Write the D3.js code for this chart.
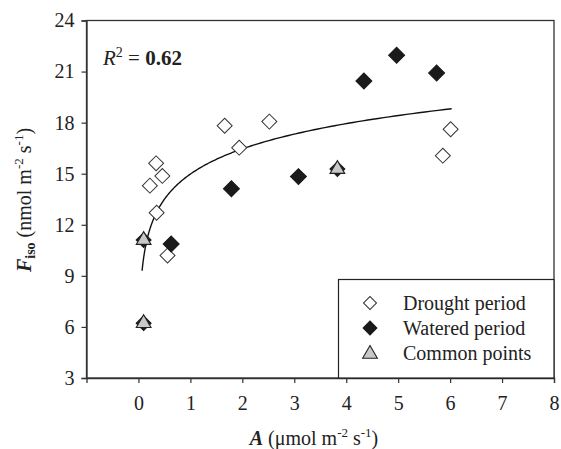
<!DOCTYPE html>
<html><head><meta charset="utf-8">
<script src="https://cdn.jsdelivr.net/npm/d3@7"></script>
<style>
body{margin:0;background:#fff;}
svg text{font-family:"Liberation Serif","Times New Roman",Times,"DejaVu Serif",serif !important;fill:#222;}
</style></head>
<body><svg id="c" width="561" height="449"></svg>
<script>
// Data
const droughtA = [1.66, 2.52, 1.94, 0.34, 0.46, 0.22, 0.35, 0.56, 6.01, 5.86];
const droughtF = [17.82, 18.06, 16.53, 15.61, 14.87, 14.30, 12.71, 10.19, 17.61, 16.06];
const wateredA = [1.79, 3.08, 0.63, 4.34, 4.97, 5.74];
const wateredF = [14.12, 14.83, 10.87, 20.45, 21.96, 20.92];
const commonA = [0.10, 0.10, 3.83];
const commonF = [11.10, 6.22, 15.27];
// Logarithmic fit: F = a + b ln(A), drawn over A range
const fitCoef = [14.98, 2.136];
const fitRange = [0.07, 6.03];
const xTicks = [0, 1, 2, 3, 4, 5, 6, 7, 8];
const yTicks = [3, 6, 9, 12, 15, 18, 21, 24];
const legendLabels = ["Drought period", "Watered period", "Common points"];

const FONT = '"Liberation Serif","Times New Roman",Times,"DejaVu Serif",serif';
const svg = d3.select("#c");
const x = d3.scaleLinear().domain([-1, 8]).range([86.5, 554]);
const y = d3.scaleLinear().domain([3, 24]).range([378, 20.5]);
const frame = "#333";

// frame
svg.append("rect").attr("x", x(-1)).attr("y", y(24))
  .attr("width", x(8) - x(-1)).attr("height", y(3) - y(24))
  .attr("fill", "none").attr("stroke", frame).attr("stroke-width", 1.3);

const xa = svg.append("g").attr("transform", `translate(0,${y(3)})`)
  .call(d3.axisBottom(x).tickValues(xTicks).tickSize(5).tickPadding(13).tickFormat(d3.format("d")));
const ya = svg.append("g").attr("transform", `translate(${x(-1)},0)`)
  .call(d3.axisLeft(y).tickValues(yTicks).tickSize(5).tickPadding(7).tickFormat(d3.format("d")));
[xa, ya].forEach(g => {
  g.attr("font-family", FONT);
  g.select(".domain").attr("stroke", frame).attr("stroke-width", 1.3);
  g.selectAll(".tick line").attr("stroke", frame).attr("stroke-width", 1.2);
  g.selectAll(".tick text").attr("font-size", 20).attr("fill", "#222");
});

// fit curve
const fitPts = d3.range(0, 201).map(i => {
  const a = fitRange[0] * Math.pow(fitRange[1] / fitRange[0], i / 200);
  return [a, fitCoef[0] + fitCoef[1] * Math.log(a)];
});
svg.append("path").datum(fitPts)
  .attr("d", d3.line().x(d => x(d[0])).y(d => y(d[1])))
  .attr("fill", "none").attr("stroke", "#111").attr("stroke-width", 1.4);

const diamond = d3.symbol().type(d3.symbolSquare);
const tri = d3.symbol().type(d3.symbolTriangle).size(94);

function drawDiamond(g, cx, cy, filled, size) {
  g.append("path").attr("d", diamond.size(size)())
    .attr("transform", `translate(${cx},${cy}) rotate(45)`)
    .attr("fill", filled ? "#1a1a1a" : "#fff")
    .attr("stroke", filled ? "#1a1a1a" : "#333").attr("stroke-width", 1);
}
function drawTri(g, cx, cy) {
  g.append("path").attr("d", tri())
    .attr("transform", `translate(${cx},${cy})`)
    .attr("fill", "#c8c8c8").attr("stroke", "#222").attr("stroke-width", 1.1);
}

const pts = svg.append("g");
droughtA.forEach((a, i) => drawDiamond(pts, x(a), y(droughtF[i]), false, 112));
wateredA.forEach((a, i) => drawDiamond(pts, x(a), y(wateredF[i]), true, 128));
commonA.forEach((a, i) => {
  drawDiamond(pts, x(a), y(commonF[i]), true, 112);
  drawTri(pts, x(a), y(commonF[i]));
});

// R^2
const r = svg.append("text").attr("x", 103).attr("y", 65).attr("font-size", 21).attr("font-family", FONT);
r.append("tspan").attr("font-style", "italic").text("R");
r.append("tspan").attr("font-size", 14).attr("dy", -8).text("2");
r.append("tspan").attr("dy", 8).text(" = ");
r.append("tspan").attr("font-weight", "bold").text("0.62");

// legend
const lg = svg.append("g");
lg.append("rect").attr("x", 338.5).attr("y", 279.5).attr("width", x(8) - 338.5).attr("height", y(3) - 279.5)
  .attr("fill", "#fff").attr("stroke", "#222").attr("stroke-width", 1.2);
const rows = [303, 328, 353];
drawDiamond(lg, 370, rows[0], false, 84);
drawDiamond(lg, 370, rows[1], true, 96);
drawTri(lg, 370, rows[2] + 1);
legendLabels.forEach((t, i) => {
  lg.append("text").attr("x", 403).attr("y", rows[i] + 7).attr("font-size", 20).attr("font-family", FONT).text(t);
});

// axis titles
const xt = svg.append("text").attr("x", 314).attr("y", 445).attr("text-anchor", "middle").attr("font-size", 20).attr("font-family", FONT);
xt.append("tspan").attr("font-weight", "bold").attr("font-style", "italic").text("A");
xt.append("tspan").text(" (\u03bcmol m");
xt.append("tspan").attr("font-size", 13).attr("dy", -8).text("-2");
xt.append("tspan").attr("dy", 8).text(" s");
xt.append("tspan").attr("font-size", 13).attr("dy", -8).text("-1");
xt.append("tspan").attr("dy", 8).text(")");

const yt = svg.append("text").attr("transform", "translate(31,200) rotate(-90)")
  .attr("text-anchor", "middle").attr("font-size", 20).attr("font-family", FONT);
yt.append("tspan").attr("font-weight", "bold").attr("font-style", "italic").text("F");
yt.append("tspan").attr("font-weight", "bold").attr("font-size", 14).attr("dy", 4).text("iso");
yt.append("tspan").attr("dy", -4).text(" (nmol m");
yt.append("tspan").attr("font-size", 13).attr("dy", -8).text("-2");
yt.append("tspan").attr("dy", 8).text(" s");
yt.append("tspan").attr("font-size", 13).attr("dy", -8).text("-1");
yt.append("tspan").attr("dy", 8).text(")");
</script></body></html>
